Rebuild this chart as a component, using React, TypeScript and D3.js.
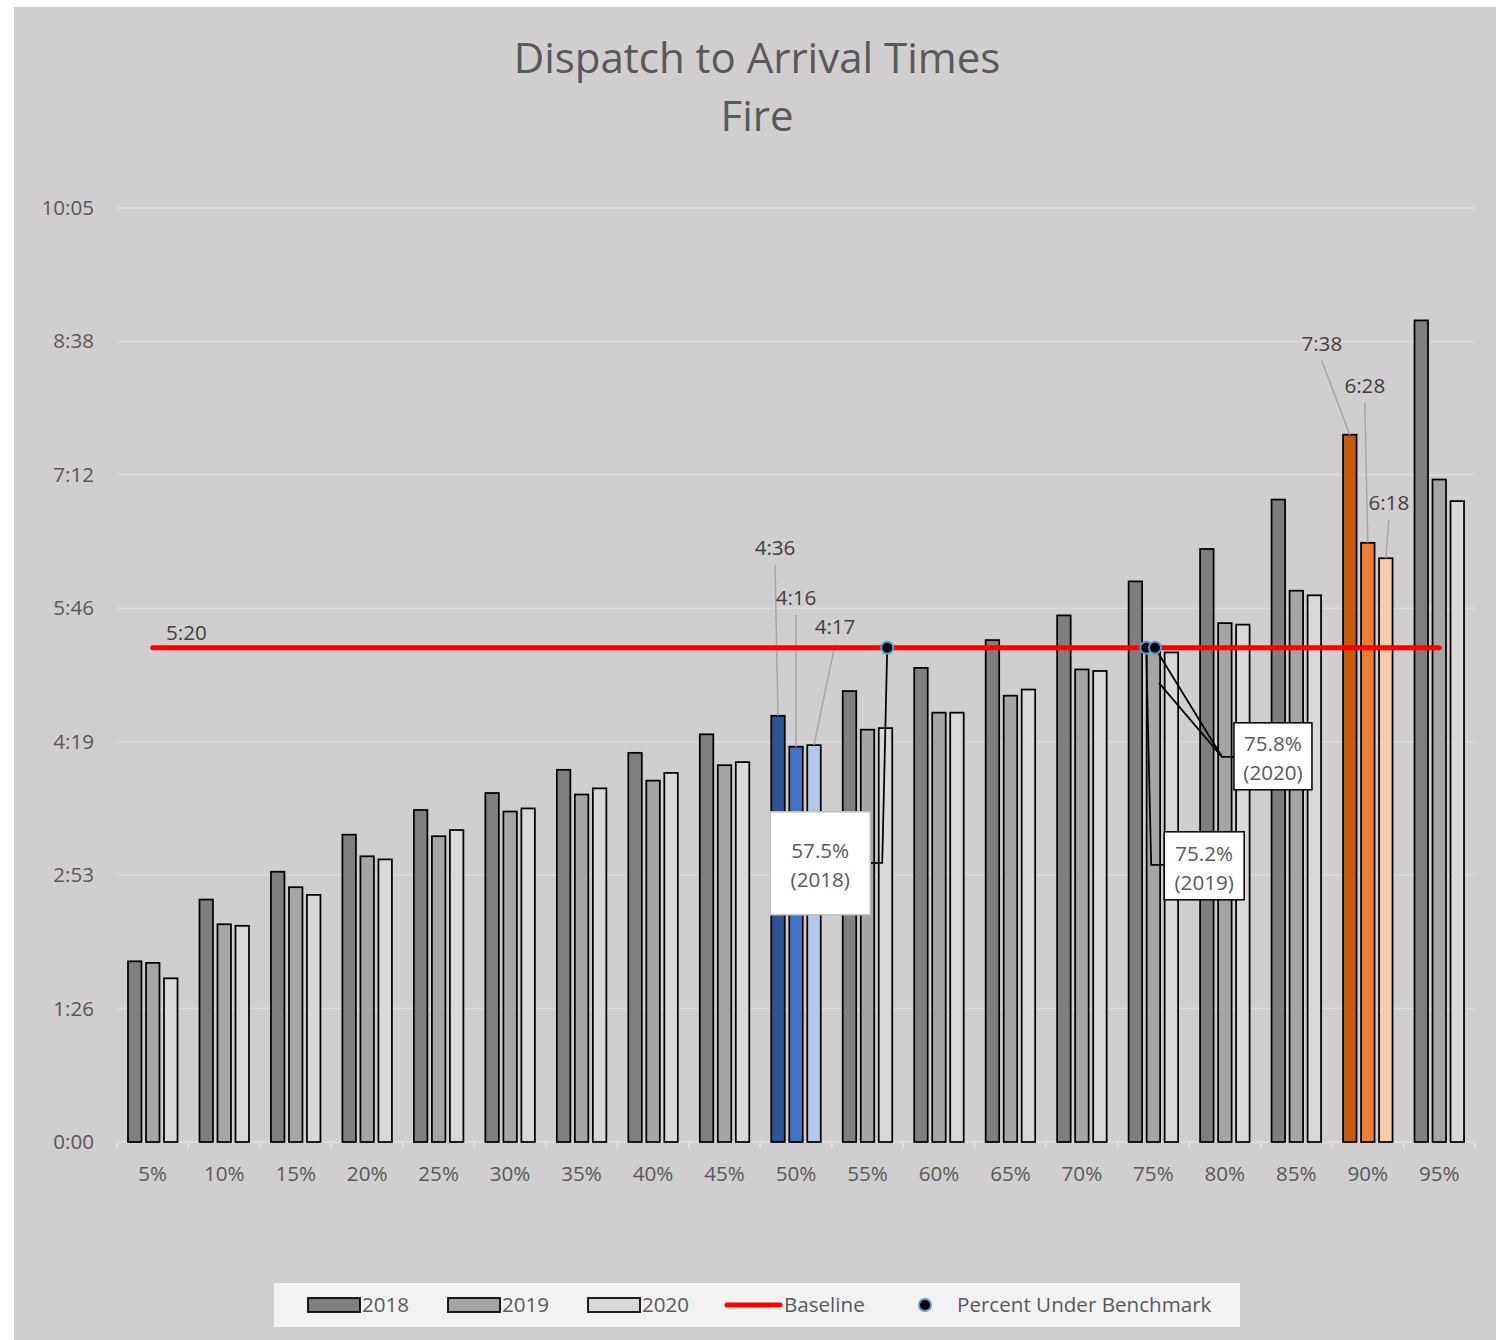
import * as d3 from 'd3';

// percentile categories and yearly times (seconds)
const categories = ['5%', '10%', '15%', '20%', '25%', '30%', '35%', '40%', '45%', '50%', '55%', '60%', '65%', '70%', '75%', '80%', '85%', '90%', '95%'];
const years = ['2018', '2019', '2020'];
const times2018 = [117, 157, 175, 199, 215, 226, 241, 252, 264, 276, 292, 307, 325, 341, 363, 384, 416, 458, 532];
const times2019 = [116, 141, 165, 185, 198, 214, 225, 234, 244, 256, 267, 278, 289, 306, 321, 336, 357, 388, 429];
const times2020 = [106, 140, 160, 183, 202, 216, 229, 239, 246, 257, 268, 278, 293, 305, 317, 335, 354, 378, 415];
const baseline = 320;
const yMax = 604.8;
const yTickLabels = ['0:00', '1:26', '2:53', '4:19', '5:46', '7:12', '8:38', '10:05'];

// percent of calls under benchmark
const benchmarkPct = [57.5, 75.2, 75.8];
const benchmarkYear = ['2018', '2019', '2020'];

const W = 1496;
const H = 1340;
const plotLeft = 117;
const plotRight = 1475;
const plotTop = 208;
const plotBottom = 1142;

const greys = ['#7f7f7f', '#a5a5a5', '#d9d9d9'];
const highlight: Record<string, string[]> = {
  '50%': ['#2f5597', '#4472c4', '#b4c7e7'],
  '90%': ['#c55a11', '#ed7d31', '#f8cbad'],
};
// data label offsets for highlighted bars: [dx, dy from bar top]
const labelOffsets: Record<string, [number, number][]> = {
  '50%': [[-3, -168], [0, -149], [21, -118]],
  '90%': [[-28, -91], [-3, -157], [3, -55]],
};

const textColor = '#595959';
const font = '"Open Sans", "DejaVu Sans", sans-serif';
const fs = 20.6;

const fmt = (s: number) => {
  const r = Math.round(s);
  return `${Math.floor(r / 60)}:${String(r % 60).padStart(2, '0')}`;
};

export default function App() {
  const x = d3.scaleBand().domain(categories).range([plotLeft, plotRight]).padding(0);
  const xSub = d3.scaleBand().domain(years).range([11, 60.5]).paddingInner(0.25);
  const y = d3.scaleLinear().domain([0, yMax]).range([plotBottom, plotTop]);
  const xPct = d3.scaleLinear().domain([0, 100]).range([46, 1509]);
  const yTicks = d3.range(0, yTickLabels.length).map((i) => (i * yMax) / (yTickLabels.length - 1));
  const series = [times2018, times2019, times2020];

  const cx = (c: string) => (x(c) ?? 0) + x.bandwidth() / 2;
  const barCx = (c: string, yi: number) => (x(c) ?? 0) + (xSub(years[yi]) ?? 0) + xSub.bandwidth() / 2;

  const dots = benchmarkPct.map((p, i) => ({ p, year: benchmarkYear[i], x: xPct(p), y: y(baseline) }));

  return (
    <svg width={W} height={H} style={{ position: 'absolute', left: 0, top: 0 }} fontFamily={font}>
      <rect x={0} y={0} width={W} height={H} fill="#ffffff" />
      <rect x={14} y={7} width={W - 14} height={H - 7} fill="#d0cece" />

      {/* title */}
      <text x={757} y={73} textAnchor="middle" fontSize={42} fill={textColor}>Dispatch to Arrival Times</text>
      <text x={757} y={131} textAnchor="middle" fontSize={42} fill={textColor}>Fire</text>

      {/* gridlines + y labels */}
      {yTicks.map((t, i) => (
        <g key={i}>
          {i > 0 && <line x1={plotLeft} x2={plotRight} y1={y(t)} y2={y(t)} stroke="#dcdcdc" strokeWidth={1.5} />}
          <text x={94} y={y(t) + 7} textAnchor="end" fontSize={fs} fill={textColor}>{yTickLabels[i]}</text>
        </g>
      ))}

      {/* x axis */}
      <line x1={plotLeft} x2={plotRight} y1={plotBottom} y2={plotBottom} stroke="#e0e0e0" strokeWidth={1.5} />
      {categories.concat(['end']).map((c, i) => {
        const xx = plotLeft + i * x.step();
        return <line key={c} x1={xx} x2={xx} y1={plotBottom} y2={plotBottom + 7} stroke="#e0e0e0" strokeWidth={1.5} />;
      })}
      {categories.map((c) => (
        <text key={c} x={cx(c)} y={plotBottom + 39} textAnchor="middle" fontSize={fs} fill={textColor}>{c}</text>
      ))}

      {/* bars */}
      {categories.map((c, ci) => (
        <g key={c}>
          {series.map((s, yi) => {
            const v = s[ci];
            const fill = highlight[c] ? highlight[c][yi] : greys[yi];
            return (
              <rect
                key={yi}
                x={(x(c) ?? 0) + (xSub(years[yi]) ?? 0)}
                y={y(v)}
                width={xSub.bandwidth()}
                height={plotBottom - y(v)}
                fill={fill}
                stroke="#000"
                strokeWidth={1.75}
              />
            );
          })}
        </g>
      ))}

      {/* data labels on highlighted groups */}
      {Object.keys(labelOffsets).map((c) => {
        const ci = categories.indexOf(c);
        return series.map((s, yi) => {
          const [dx, dy] = labelOffsets[c][yi];
          const bx = barCx(c, yi);
          const top = y(s[ci]);
          const tx = bx + dx;
          const ty = top + dy;
          return (
            <g key={c + yi}>
              <line x1={tx} y1={ty + 17} x2={bx} y2={top} stroke="#a6a6a6" strokeWidth={1.5} />
              <text x={tx} y={ty + 7} textAnchor="middle" fontSize={fs} fill="#404040">{fmt(s[ci])}</text>
            </g>
          );
        });
      })}

      {/* baseline */}
      <line
        x1={cx(categories[0])}
        x2={cx(categories[categories.length - 1])}
        y1={y(baseline)}
        y2={y(baseline)}
        stroke="#ff0000"
        strokeWidth={5}
        strokeLinecap="round"
      />
      <text x={166} y={y(baseline) - 8} fontSize={fs} fill="#404040">{fmt(baseline)}</text>

      {/* callout leader lines */}
      <g stroke="#000" strokeWidth={1.75} fill="none">
        <polyline points={`${dots[0].x},${dots[0].y} ${dots[0].x - 5},${dots[0].y + 215} ${dots[0].x - 17},${dots[0].y + 215}`} />
        <polyline points={`${dots[1].x},${dots[1].y} ${dots[1].x + 5},${dots[1].y + 217} ${dots[1].x + 18},${dots[1].y + 217}`} />
        <polyline points={`${dots[2].x},${dots[2].y} ${dots[2].x + 67},${dots[2].y + 109} ${dots[2].x + 79},${dots[2].y + 109}`} />
        <line x1={dots[2].x + 4} y1={dots[2].y + 35} x2={dots[2].x + 67} y2={dots[2].y + 109} />
      </g>

      {/* benchmark dots */}
      {dots.map((d) => (
        <circle key={d.year} cx={d.x} cy={d.y} r={6} fill="#000" stroke="#5b9bd5" strokeWidth={2} />
      ))}

      {/* callout boxes */}
      {[
        { d: dots[0], bx: dots[0].x - 117, by: dots[0].y + 164, w: 100, h: 103, stroke: '#bfbfbf' },
        { d: dots[1], bx: dots[1].x + 18, by: dots[1].y + 184, w: 80, h: 68, stroke: '#000' },
        { d: dots[2], bx: dots[2].x + 79, by: dots[2].y + 75, w: 78, h: 67, stroke: '#000' },
      ].map((b) => (
        <g key={b.d.year}>
          <rect x={b.bx} y={b.by} width={b.w} height={b.h} fill="#ffffff" stroke={b.stroke} strokeWidth={1.5} />
          <text x={b.bx + b.w / 2} y={b.by + b.h / 2 - 5} textAnchor="middle" fontSize={fs} fill={textColor}>{`${b.d.p}%`}</text>
          <text x={b.bx + b.w / 2} y={b.by + b.h / 2 + 24} textAnchor="middle" fontSize={fs} fill={textColor}>{`(${b.d.year})`}</text>
        </g>
      ))}

      {/* legend */}
      <rect x={274} y={1283} width={966} height={44} fill="#f2f2f2" />
      {years.map((yr, i) => {
        const lx = 308 + i * 140;
        return (
          <g key={yr}>
            <rect x={lx} y={1298} width={52} height={14} fill={greys[i]} stroke="#000" strokeWidth={1.75} />
            <text x={lx + 54} y={1312} fontSize={fs} fill={textColor}>{yr}</text>
          </g>
        );
      })}
      <line x1={727} x2={780} y1={1305} y2={1305} stroke="#ff0000" strokeWidth={5} strokeLinecap="round" />
      <text x={784} y={1312} fontSize={fs} fill={textColor}>Baseline</text>
      <circle cx={925} cy={1305} r={6} fill="#000" stroke="#5b9bd5" strokeWidth={2} />
      <text x={957} y={1312} fontSize={fs} fill={textColor}>Percent Under Benchmark</text>
    </svg>
  );
}
